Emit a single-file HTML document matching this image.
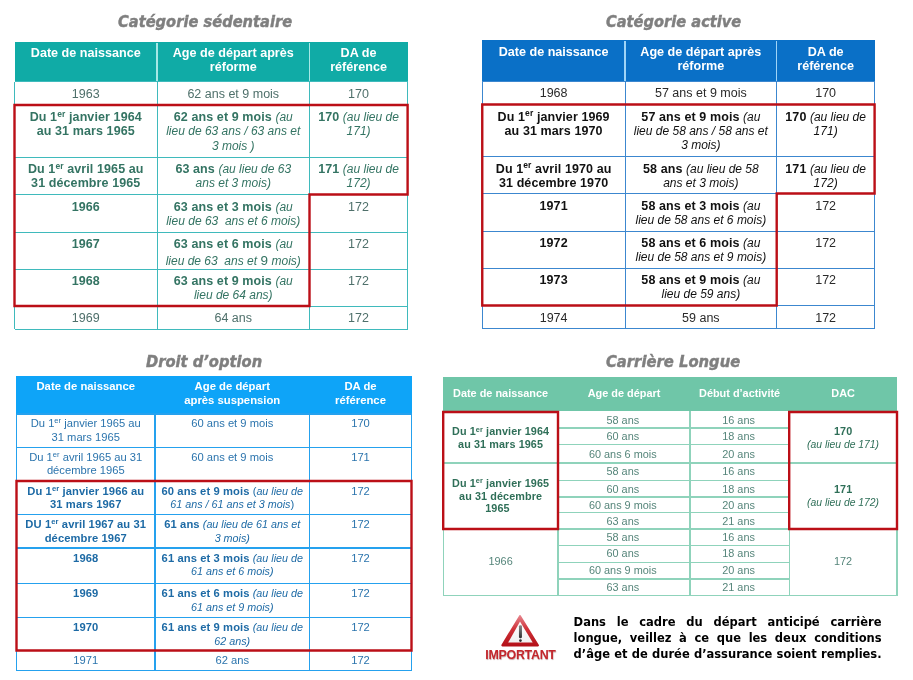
<!DOCTYPE html>
<html lang="fr"><head><meta charset="utf-8"><title>Tableaux</title><style>
html,body{margin:0;padding:0;background:#fff;}
body{width:913px;height:680px;position:relative;overflow:hidden;font-family:"Liberation Sans",sans-serif;}
.t{position:absolute;white-space:nowrap;-webkit-text-stroke:0.45px #7f7f7f;font-family:"DejaVu Sans","Liberation Sans",sans-serif;font-weight:bold;font-style:italic;color:#7f7f7f;font-size:15.8px;line-height:20px;transform-origin:0 50%;}
.c{position:absolute;text-align:center;white-space:nowrap;box-sizing:border-box;font-size:12.5px;line-height:14.3px;}
.c b{letter-spacing:0.1px;}
.c i{font-size:0.96em;}
.c sup{font-size:0.68em;line-height:0;vertical-align:baseline;position:relative;top:-0.5em;}
.h{position:absolute;color:#fff;font-weight:bold;text-align:center;white-space:nowrap;box-sizing:border-box;font-size:12.6px;line-height:14.3px;}
.l{position:absolute;}
</style></head><body>
<div class="t" style="left:118px;top:11.5px;transform:scaleX(0.928)">Catégorie sédentaire</div>
<div class="l" style="left:14.5px;top:41.6px;width:393.1px;height:39.9px;background:#10aba6"></div>
<div class="l" style="left:156.40px;top:42.6px;width:1.2px;height:38.9px;background:#a6e8e6"></div>
<div class="l" style="left:308.90px;top:42.6px;width:1.2px;height:38.9px;background:#a6e8e6"></div>
<div class="l" style="left:14.5px;top:81.00px;width:393.1px;height:1px;background:#3fbabc"></div>
<div class="l" style="left:14.5px;top:104.50px;width:393.1px;height:1px;background:#3fbabc"></div>
<div class="l" style="left:14.5px;top:156.50px;width:393.1px;height:1px;background:#3fbabc"></div>
<div class="l" style="left:14.5px;top:194.00px;width:393.1px;height:1px;background:#3fbabc"></div>
<div class="l" style="left:14.5px;top:231.50px;width:393.1px;height:1px;background:#3fbabc"></div>
<div class="l" style="left:14.5px;top:268.50px;width:393.1px;height:1px;background:#3fbabc"></div>
<div class="l" style="left:14.5px;top:305.50px;width:393.1px;height:1px;background:#3fbabc"></div>
<div class="l" style="left:14.5px;top:328.80px;width:393.1px;height:1px;background:#3fbabc"></div>
<div class="l" style="left:14.00px;top:81.5px;width:1px;height:247.8px;background:#3fbabc"></div>
<div class="l" style="left:156.50px;top:81.5px;width:1px;height:247.8px;background:#3fbabc"></div>
<div class="l" style="left:309.00px;top:81.5px;width:1px;height:247.8px;background:#3fbabc"></div>
<div class="l" style="left:407.10px;top:81.5px;width:1px;height:247.8px;background:#3fbabc"></div>
<div class="h" style="left:14.5px;top:41.6px;width:142.5px;height:39.9px;padding-top:4px;color:#fff;">Date de naissance</div>
<div class="h" style="left:157px;top:41.6px;width:152.5px;height:39.9px;padding-top:4px;color:#fff;">Age de départ après<br>réforme</div>
<div class="h" style="left:309.5px;top:41.6px;width:98.10000000000002px;height:39.9px;padding-top:4px;color:#fff;">DA de<br>référence</div>
<div class="c" style="left:14.5px;top:81.5px;width:142.5px;height:23.5px;padding-top:5px;color:#4f706b;">1963</div>
<div class="c" style="left:157px;top:81.5px;width:152.5px;height:23.5px;padding-top:5px;color:#4f706b;">62 ans et 9 mois</div>
<div class="c" style="left:309.5px;top:81.5px;width:98.10000000000002px;height:23.5px;padding-top:5px;color:#4f706b;">170</div>
<div class="c" style="left:14.5px;top:105px;width:142.5px;height:52px;padding-top:5px;color:#347463;"><b>Du 1<sup>er</sup> janvier 1964<br>au 31 mars 1965</b></div>
<div class="c" style="left:157px;top:105px;width:152.5px;height:52px;padding-top:5px;color:#347463;"><b>62 ans et 9 mois</b> <i>(au<br>lieu de 63 ans / 63 ans et<br>3 mois )</i></div>
<div class="c" style="left:309.5px;top:105px;width:98.10000000000002px;height:52px;padding-top:5px;color:#347463;"><b>170</b> <i>(au lieu de<br>171)</i></div>
<div class="c" style="left:14.5px;top:157px;width:142.5px;height:37.5px;padding-top:5px;color:#347463;"><b>Du 1<sup>er</sup> avril 1965 au<br>31 décembre 1965</b></div>
<div class="c" style="left:157px;top:157px;width:152.5px;height:37.5px;padding-top:5px;color:#347463;"><b>63 ans</b> <i>(au lieu de 63<br>ans et 3 mois)</i></div>
<div class="c" style="left:309.5px;top:157px;width:98.10000000000002px;height:37.5px;padding-top:5px;color:#347463;"><b>171</b> <i>(au lieu de<br>172)</i></div>
<div class="c" style="left:14.5px;top:194.5px;width:142.5px;height:37.5px;padding-top:5px;color:#347463;"><b>1966</b></div>
<div class="c" style="left:157px;top:194.5px;width:152.5px;height:37.5px;padding-top:5px;color:#347463;"><b>63 ans et 3 mois</b> <i>(au<br>lieu de 63&nbsp; ans et 6 mois)</i></div>
<div class="c" style="left:309.5px;top:194.5px;width:98.10000000000002px;height:37.5px;padding-top:5px;color:#4f706b;">172</div>
<div class="c" style="left:14.5px;top:232px;width:142.5px;height:37px;padding-top:5px;color:#347463;"><b>1967</b></div>
<div class="c" style="left:157px;top:232px;width:152.5px;height:37px;padding-top:5px;color:#347463;"><b>63 ans et 6 mois</b> <i>(au</i><br><span style="position:relative;top:2.5px"><i>lieu de 63&nbsp; ans et</i> <span style="font-size:13.5px">9</span> <i>mois)</i></span></div>
<div class="c" style="left:309.5px;top:232px;width:98.10000000000002px;height:37px;padding-top:5px;color:#4f706b;">172</div>
<div class="c" style="left:14.5px;top:269px;width:142.5px;height:37px;padding-top:5px;color:#347463;"><b>1968</b></div>
<div class="c" style="left:157px;top:269px;width:152.5px;height:37px;padding-top:5px;color:#347463;"><b>63 ans et 9 mois</b> <i>(au<br>lieu de 64 ans)</i></div>
<div class="c" style="left:309.5px;top:269px;width:98.10000000000002px;height:37px;padding-top:5px;color:#4f706b;">172</div>
<div class="c" style="left:14.5px;top:306px;width:142.5px;height:23.30000000000001px;padding-top:5px;color:#4f706b;">1969</div>
<div class="c" style="left:157px;top:306px;width:152.5px;height:23.30000000000001px;padding-top:5px;color:#4f706b;">64 ans</div>
<div class="c" style="left:309.5px;top:306px;width:98.10000000000002px;height:23.30000000000001px;padding-top:5px;color:#4f706b;">172</div>
<div class="t" style="left:606px;top:11.7px;transform:scaleX(0.926)">Catégorie active</div>
<div class="l" style="left:482.25px;top:40px;width:392.35px;height:41px;background:#0a70c7"></div>
<div class="l" style="left:624.40px;top:41px;width:1.2px;height:40px;background:#9fd4f7"></div>
<div class="l" style="left:776.10px;top:41px;width:1.2px;height:40px;background:#9fd4f7"></div>
<div class="l" style="left:482.25px;top:80.50px;width:392.35px;height:1px;background:#3c87cf"></div>
<div class="l" style="left:482.25px;top:104.00px;width:392.35px;height:1px;background:#3c87cf"></div>
<div class="l" style="left:482.25px;top:156.00px;width:392.35px;height:1px;background:#3c87cf"></div>
<div class="l" style="left:482.25px;top:193.00px;width:392.35px;height:1px;background:#3c87cf"></div>
<div class="l" style="left:482.25px;top:230.50px;width:392.35px;height:1px;background:#3c87cf"></div>
<div class="l" style="left:482.25px;top:267.50px;width:392.35px;height:1px;background:#3c87cf"></div>
<div class="l" style="left:482.25px;top:305.00px;width:392.35px;height:1px;background:#3c87cf"></div>
<div class="l" style="left:482.25px;top:327.50px;width:392.35px;height:1px;background:#3c87cf"></div>
<div class="l" style="left:481.75px;top:81px;width:1px;height:247px;background:#3c87cf"></div>
<div class="l" style="left:624.50px;top:81px;width:1px;height:247px;background:#3c87cf"></div>
<div class="l" style="left:776.20px;top:81px;width:1px;height:247px;background:#3c87cf"></div>
<div class="l" style="left:874.10px;top:81px;width:1px;height:247px;background:#3c87cf"></div>
<div class="h" style="left:482.25px;top:40px;width:142.75px;height:41px;padding-top:5px;color:#fff;">Date de naissance</div>
<div class="h" style="left:625px;top:40px;width:151.70000000000005px;height:41px;padding-top:5px;color:#fff;">Age de départ après<br>réforme</div>
<div class="h" style="left:776.7px;top:40px;width:97.89999999999998px;height:41px;padding-top:5px;color:#fff;">DA de<br>référence</div>
<div class="c" style="left:482.25px;top:81px;width:142.75px;height:23.5px;padding-top:5px;color:#2a2a2a;">1968</div>
<div class="c" style="left:625px;top:81px;width:151.70000000000005px;height:23.5px;padding-top:5px;color:#2a2a2a;">57 ans et 9 mois</div>
<div class="c" style="left:776.7px;top:81px;width:97.89999999999998px;height:23.5px;padding-top:5px;color:#2a2a2a;">170</div>
<div class="c" style="left:482.25px;top:104.5px;width:142.75px;height:52.0px;padding-top:5px;color:#111;"><b>Du 1<sup>er</sup> janvier 1969<br>au 31 mars 1970</b></div>
<div class="c" style="left:625px;top:104.5px;width:151.70000000000005px;height:52.0px;padding-top:5px;color:#111;"><b>57 ans et 9 mois</b> <i>(au<br>lieu de 58 ans / 58 ans et<br>3 mois)</i></div>
<div class="c" style="left:776.7px;top:104.5px;width:97.89999999999998px;height:52.0px;padding-top:5px;color:#111;"><b>170</b> <i>(au lieu de<br>171)</i></div>
<div class="c" style="left:482.25px;top:156.5px;width:142.75px;height:37.0px;padding-top:5px;color:#111;"><b>Du 1<sup>er</sup> avril 1970 au<br>31 décembre 1970</b></div>
<div class="c" style="left:625px;top:156.5px;width:151.70000000000005px;height:37.0px;padding-top:5px;color:#111;"><b>58 ans</b> <i>(au lieu de 58<br>ans et 3 mois)</i></div>
<div class="c" style="left:776.7px;top:156.5px;width:97.89999999999998px;height:37.0px;padding-top:5px;color:#111;"><b>171</b> <i>(au lieu de<br>172)</i></div>
<div class="c" style="left:482.25px;top:193.5px;width:142.75px;height:37.5px;padding-top:5px;color:#111;"><b>1971</b></div>
<div class="c" style="left:625px;top:193.5px;width:151.70000000000005px;height:37.5px;padding-top:5px;color:#111;"><b>58 ans et 3 mois</b> <i>(au<br>lieu de 58 ans et 6 mois)</i></div>
<div class="c" style="left:776.7px;top:193.5px;width:97.89999999999998px;height:37.5px;padding-top:5px;color:#2a2a2a;">172</div>
<div class="c" style="left:482.25px;top:231px;width:142.75px;height:37px;padding-top:5px;color:#111;"><b>1972</b></div>
<div class="c" style="left:625px;top:231px;width:151.70000000000005px;height:37px;padding-top:5px;color:#111;"><b>58 ans et 6 mois</b> <i>(au<br>lieu de 58 ans et 9 mois)</i></div>
<div class="c" style="left:776.7px;top:231px;width:97.89999999999998px;height:37px;padding-top:5px;color:#2a2a2a;">172</div>
<div class="c" style="left:482.25px;top:268px;width:142.75px;height:37.5px;padding-top:5px;color:#111;"><b>1973</b></div>
<div class="c" style="left:625px;top:268px;width:151.70000000000005px;height:37.5px;padding-top:5px;color:#111;"><b>58 ans et 9 mois</b> <i>(au<br>lieu de 59 ans)</i></div>
<div class="c" style="left:776.7px;top:268px;width:97.89999999999998px;height:37.5px;padding-top:5px;color:#2a2a2a;">172</div>
<div class="c" style="left:482.25px;top:305.5px;width:142.75px;height:22.5px;padding-top:5px;color:#2a2a2a;">1974</div>
<div class="c" style="left:625px;top:305.5px;width:151.70000000000005px;height:22.5px;padding-top:5px;color:#2a2a2a;">59 ans</div>
<div class="c" style="left:776.7px;top:305.5px;width:97.89999999999998px;height:22.5px;padding-top:5px;color:#2a2a2a;">172</div>
<div class="t" style="left:146.3px;top:352px;transform:scaleX(0.931)">Droit d’option</div>
<div class="l" style="left:16.0px;top:376px;width:396.0px;height:38px;background:#0ea4f8"></div>
<div class="l" style="left:16.5px;top:413.35px;width:395.0px;height:1.3px;background:#25a1ee"></div>
<div class="l" style="left:16.5px;top:446.85px;width:395.0px;height:1.3px;background:#25a1ee"></div>
<div class="l" style="left:16.5px;top:480.35px;width:395.0px;height:1.3px;background:#25a1ee"></div>
<div class="l" style="left:16.5px;top:513.85px;width:395.0px;height:1.3px;background:#25a1ee"></div>
<div class="l" style="left:16.5px;top:547.35px;width:395.0px;height:1.3px;background:#25a1ee"></div>
<div class="l" style="left:16.5px;top:582.85px;width:395.0px;height:1.3px;background:#25a1ee"></div>
<div class="l" style="left:16.5px;top:616.85px;width:395.0px;height:1.3px;background:#25a1ee"></div>
<div class="l" style="left:16.5px;top:649.85px;width:395.0px;height:1.3px;background:#25a1ee"></div>
<div class="l" style="left:16.5px;top:669.85px;width:395.0px;height:1.3px;background:#25a1ee"></div>
<div class="l" style="left:15.65px;top:414px;width:1.7px;height:256.5px;background:#25a1ee"></div>
<div class="l" style="left:154.15px;top:414px;width:1.7px;height:256.5px;background:#25a1ee"></div>
<div class="l" style="left:308.65px;top:414px;width:1.7px;height:256.5px;background:#25a1ee"></div>
<div class="l" style="left:410.65px;top:414px;width:1.7px;height:256.5px;background:#25a1ee"></div>
<div class="h" style="left:16.5px;top:376px;width:138.5px;height:38px;padding-top:4px;color:#fff;font-size:11.3px;line-height:13.5px;">Date de naissance</div>
<div class="h" style="left:155px;top:376px;width:154.5px;height:38px;padding-top:4px;color:#fff;font-size:11.3px;line-height:13.5px;">Age de départ<br>après suspension</div>
<div class="h" style="left:309.5px;top:376px;width:102.0px;height:38px;padding-top:4px;color:#fff;font-size:11.3px;line-height:13.5px;">DA de<br>référence</div>
<div class="c c3" style="left:16.5px;top:414px;width:138.5px;height:33.5px;padding-top:3px;color:#2b74ad;font-size:11.2px;line-height:13.5px;">Du 1<sup>er</sup> janvier 1965 au<br>31 mars 1965</div>
<div class="c c3" style="left:155px;top:414px;width:154.5px;height:33.5px;padding-top:3px;color:#2b74ad;font-size:11.2px;line-height:13.5px;">60 ans et 9 mois</div>
<div class="c c3" style="left:309.5px;top:414px;width:102.0px;height:33.5px;padding-top:3px;color:#2b74ad;font-size:11.2px;line-height:13.5px;">170</div>
<div class="c c3" style="left:16.5px;top:447.5px;width:138.5px;height:33.5px;padding-top:3px;color:#2b74ad;font-size:11.2px;line-height:13.5px;">Du 1<sup>er</sup> avril 1965 au 31<br>décembre 1965</div>
<div class="c c3" style="left:155px;top:447.5px;width:154.5px;height:33.5px;padding-top:3px;color:#2b74ad;font-size:11.2px;line-height:13.5px;">60 ans et 9 mois</div>
<div class="c c3" style="left:309.5px;top:447.5px;width:102.0px;height:33.5px;padding-top:3px;color:#2b74ad;font-size:11.2px;line-height:13.5px;">171</div>
<div class="c c3" style="left:16.5px;top:481px;width:138.5px;height:33.5px;padding-top:3.7px;color:#1d6aa5;font-size:11.2px;line-height:13.5px;"><b>Du 1<sup>er</sup> janvier 1966 au<br>31 mars 1967</b></div>
<div class="c c3" style="left:155px;top:481px;width:154.5px;height:33.5px;padding-top:3.7px;color:#1d6aa5;font-size:11.2px;line-height:13.5px;"><b>60 ans et 9 mois</b> (<i>au lieu de<br>61 ans / 61 ans et 3 mois</i>)</div>
<div class="c c3" style="left:309.5px;top:481px;width:102.0px;height:33.5px;padding-top:3.7px;color:#2b74ad;font-size:11.2px;line-height:13.5px;">172</div>
<div class="c c3" style="left:16.5px;top:514.5px;width:138.5px;height:33.5px;padding-top:3.7px;color:#1d6aa5;font-size:11.2px;line-height:13.5px;"><b>DU 1<sup>er</sup> avril 1967 au 31<br>décembre 1967</b></div>
<div class="c c3" style="left:155px;top:514.5px;width:154.5px;height:33.5px;padding-top:3.7px;color:#1d6aa5;font-size:11.2px;line-height:13.5px;"><b>61 ans</b> <i>(au lieu de 61 ans et<br>3 mois)</i></div>
<div class="c c3" style="left:309.5px;top:514.5px;width:102.0px;height:33.5px;padding-top:3.7px;color:#2b74ad;font-size:11.2px;line-height:13.5px;">172</div>
<div class="c c3" style="left:16.5px;top:548px;width:138.5px;height:35.5px;padding-top:3.7px;color:#1d6aa5;font-size:11.2px;line-height:13.5px;"><b>1968</b></div>
<div class="c c3" style="left:155px;top:548px;width:154.5px;height:35.5px;padding-top:3.7px;color:#1d6aa5;font-size:11.2px;line-height:13.5px;"><b>61 ans et 3 mois</b> <i>(au lieu de<br>61 ans et 6 mois)</i></div>
<div class="c c3" style="left:309.5px;top:548px;width:102.0px;height:35.5px;padding-top:3.7px;color:#2b74ad;font-size:11.2px;line-height:13.5px;">172</div>
<div class="c c3" style="left:16.5px;top:583.5px;width:138.5px;height:34.0px;padding-top:3.7px;color:#1d6aa5;font-size:11.2px;line-height:13.5px;"><b>1969</b></div>
<div class="c c3" style="left:155px;top:583.5px;width:154.5px;height:34.0px;padding-top:3.7px;color:#1d6aa5;font-size:11.2px;line-height:13.5px;"><b>61 ans et 6 mois</b> <i>(au lieu de<br>61 ans et 9 mois)</i></div>
<div class="c c3" style="left:309.5px;top:583.5px;width:102.0px;height:34.0px;padding-top:3.7px;color:#2b74ad;font-size:11.2px;line-height:13.5px;">172</div>
<div class="c c3" style="left:16.5px;top:617.5px;width:138.5px;height:33.0px;padding-top:3.7px;color:#1d6aa5;font-size:11.2px;line-height:13.5px;"><b>1970</b></div>
<div class="c c3" style="left:155px;top:617.5px;width:154.5px;height:33.0px;padding-top:3.7px;color:#1d6aa5;font-size:11.2px;line-height:13.5px;"><b>61 ans et 9 mois</b> <i>(au lieu de<br>62 ans)</i></div>
<div class="c c3" style="left:309.5px;top:617.5px;width:102.0px;height:33.0px;padding-top:3.7px;color:#2b74ad;font-size:11.2px;line-height:13.5px;">172</div>
<div class="c c3" style="left:16.5px;top:650.5px;width:138.5px;height:20.0px;padding-top:3.7px;color:#2b74ad;font-size:11.2px;line-height:13.5px;">1971</div>
<div class="c c3" style="left:155px;top:650.5px;width:154.5px;height:20.0px;padding-top:3.7px;color:#2b74ad;font-size:11.2px;line-height:13.5px;">62 ans</div>
<div class="c c3" style="left:309.5px;top:650.5px;width:102.0px;height:20.0px;padding-top:3.7px;color:#2b74ad;font-size:11.2px;line-height:13.5px;">172</div>
<div class="t" style="left:606px;top:352px;transform:scaleX(0.936)">Carrière Longue</div>
<div class="l" style="left:443.2px;top:376.6px;width:453.8px;height:34.299999999999955px;background:#6fc6a8"></div>
<div class="l" style="left:558px;top:427.38px;width:231.20000000000005px;height:1.25px;background:#8fd3bb"></div>
<div class="l" style="left:558px;top:443.88px;width:231.20000000000005px;height:1.25px;background:#8fd3bb"></div>
<div class="l" style="left:558px;top:462.38px;width:231.20000000000005px;height:1.25px;background:#8fd3bb"></div>
<div class="l" style="left:558px;top:479.88px;width:231.20000000000005px;height:1.25px;background:#8fd3bb"></div>
<div class="l" style="left:558px;top:496.38px;width:231.20000000000005px;height:1.25px;background:#8fd3bb"></div>
<div class="l" style="left:558px;top:511.88px;width:231.20000000000005px;height:1.25px;background:#8fd3bb"></div>
<div class="l" style="left:558px;top:528.38px;width:231.20000000000005px;height:1.25px;background:#8fd3bb"></div>
<div class="l" style="left:558px;top:544.88px;width:231.20000000000005px;height:1.25px;background:#8fd3bb"></div>
<div class="l" style="left:558px;top:561.88px;width:231.20000000000005px;height:1.25px;background:#8fd3bb"></div>
<div class="l" style="left:558px;top:578.38px;width:231.20000000000005px;height:1.25px;background:#8fd3bb"></div>
<div class="l" style="left:558px;top:594.88px;width:231.20000000000005px;height:1.25px;background:#8fd3bb"></div>
<div class="l" style="left:443.2px;top:462.38px;width:453.8px;height:1.25px;background:#8fd3bb"></div>
<div class="l" style="left:443.2px;top:528.38px;width:453.8px;height:1.25px;background:#8fd3bb"></div>
<div class="l" style="left:443.2px;top:594.88px;width:453.8px;height:1.25px;background:#8fd3bb"></div>
<div class="l" style="left:442.57px;top:410.5px;width:1.25px;height:185.0px;background:#8fd3bb"></div>
<div class="l" style="left:557.38px;top:410.5px;width:1.25px;height:185.0px;background:#8fd3bb"></div>
<div class="l" style="left:689.38px;top:410.5px;width:1.25px;height:185.0px;background:#8fd3bb"></div>
<div class="l" style="left:788.58px;top:410.5px;width:1.25px;height:185.0px;background:#8fd3bb"></div>
<div class="l" style="left:896.38px;top:410.5px;width:1.25px;height:185.0px;background:#8fd3bb"></div>
<div class="h" style="left:443.2px;top:387.22px;width:114.80000000000001px;color:#fff;font-size:10.9px;line-height:13px;">Date de naissance</div>
<div class="h" style="left:558px;top:387.22px;width:132px;color:#fff;font-size:10.9px;line-height:13px;">Age de départ</div>
<div class="h" style="left:690px;top:387.22px;width:99.20000000000005px;color:#fff;font-size:10.9px;line-height:13px;">Début d’activité</div>
<div class="h" style="left:789.2px;top:387.22px;width:107.79999999999995px;color:#fff;font-size:10.9px;line-height:13px;">DAC</div>
<div class="c" style="left:556.8px;top:413.57px;width:132.0px;color:#55857a;font-size:10.9px;line-height:12.8px;">58 ans</div>
<div class="c" style="left:689px;top:413.57px;width:99.20000000000005px;color:#55857a;font-size:10.9px;line-height:12.8px;">16 ans</div>
<div class="c" style="left:556.8px;top:429.82px;width:132.0px;color:#55857a;font-size:10.9px;line-height:12.8px;">60 ans</div>
<div class="c" style="left:689px;top:429.82px;width:99.20000000000005px;color:#55857a;font-size:10.9px;line-height:12.8px;">18 ans</div>
<div class="c" style="left:556.8px;top:447.82px;width:132.0px;color:#55857a;font-size:10.9px;line-height:12.8px;">60 ans 6 mois</div>
<div class="c" style="left:689px;top:447.82px;width:99.20000000000005px;color:#55857a;font-size:10.9px;line-height:12.8px;">20 ans</div>
<div class="c" style="left:556.8px;top:465.32px;width:132.0px;color:#55857a;font-size:10.9px;line-height:12.8px;">58 ans</div>
<div class="c" style="left:689px;top:465.32px;width:99.20000000000005px;color:#55857a;font-size:10.9px;line-height:12.8px;">16 ans</div>
<div class="c" style="left:556.8px;top:482.82px;width:132.0px;color:#55857a;font-size:10.9px;line-height:12.8px;">60 ans</div>
<div class="c" style="left:689px;top:482.82px;width:99.20000000000005px;color:#55857a;font-size:10.9px;line-height:12.8px;">18 ans</div>
<div class="c" style="left:556.8px;top:498.82px;width:132.0px;color:#55857a;font-size:10.9px;line-height:12.8px;">60 ans 9 mois</div>
<div class="c" style="left:689px;top:498.82px;width:99.20000000000005px;color:#55857a;font-size:10.9px;line-height:12.8px;">20 ans</div>
<div class="c" style="left:556.8px;top:514.57px;width:132.0px;color:#55857a;font-size:10.9px;line-height:12.8px;">63 ans</div>
<div class="c" style="left:689px;top:514.57px;width:99.20000000000005px;color:#55857a;font-size:10.9px;line-height:12.8px;">21 ans</div>
<div class="c" style="left:556.8px;top:530.57px;width:132.0px;color:#55857a;font-size:10.9px;line-height:12.8px;">58 ans</div>
<div class="c" style="left:689px;top:530.57px;width:99.20000000000005px;color:#55857a;font-size:10.9px;line-height:12.8px;">16 ans</div>
<div class="c" style="left:556.8px;top:547.32px;width:132.0px;color:#55857a;font-size:10.9px;line-height:12.8px;">60 ans</div>
<div class="c" style="left:689px;top:547.32px;width:99.20000000000005px;color:#55857a;font-size:10.9px;line-height:12.8px;">18 ans</div>
<div class="c" style="left:556.8px;top:564.07px;width:132.0px;color:#55857a;font-size:10.9px;line-height:12.8px;">60 ans 9 mois</div>
<div class="c" style="left:689px;top:564.07px;width:99.20000000000005px;color:#55857a;font-size:10.9px;line-height:12.8px;">20 ans</div>
<div class="c" style="left:556.8px;top:581.07px;width:132.0px;color:#55857a;font-size:10.9px;line-height:12.8px;">63 ans</div>
<div class="c" style="left:689px;top:581.07px;width:99.20000000000005px;color:#55857a;font-size:10.9px;line-height:12.8px;">21 ans</div>
<div class="c" style="left:443.2px;top:425.36px;width:114.80000000000001px;color:#2f6f58;font-size:10.8px;line-height:12.8px;"><b>Du 1<sup>er</sup> janvier 1964<br>au 31 mars 1965</b></div>
<div class="c" style="left:443.2px;top:476.86px;width:114.80000000000001px;color:#2f6f58;font-size:10.8px;line-height:12.8px;"><b>Du 1<sup>er</sup> janvier 1965<br>au 31 décembre<br>1965&nbsp;&nbsp;</b></div>
<div class="c" style="left:443.2px;top:555.32px;width:114.80000000000001px;color:#55857a;font-size:10.9px;line-height:12.8px;">1966</div>
<div class="c" style="left:789.2px;top:424.96px;width:107.79999999999995px;color:#2f6f58;font-size:10.8px;line-height:12.6px;"><b>170</b><br><i>(au lieu de 171)</i></div>
<div class="c" style="left:789.2px;top:482.86px;width:107.79999999999995px;color:#2f6f58;font-size:10.8px;line-height:12.8px;"><b>171</b><br><i>(au lieu de 172)</i></div>
<div class="c" style="left:789.2px;top:555.32px;width:107.79999999999995px;color:#55857a;font-size:10.9px;line-height:12.8px;">172</div>
<svg style="position:absolute;left:495px;top:610px" width="50" height="40" viewBox="495 610 50 40">
<defs><linearGradient id="g1" x1="0" y1="0" x2="0" y2="1"><stop offset="0" stop-color="#e58088"/><stop offset="0.45" stop-color="#cf3138"/><stop offset="1" stop-color="#b5121a"/></linearGradient>
<linearGradient id="g2" x1="0" y1="0" x2="0" y2="1"><stop offset="0" stop-color="#ffffff"/><stop offset="1" stop-color="#f1f1f1"/></linearGradient>
<linearGradient id="g3" x1="0" y1="0" x2="0" y2="1"><stop offset="0" stop-color="#8a8a8a"/><stop offset="1" stop-color="#2e2e2e"/></linearGradient></defs>
<path d="M520 616.2 L537.8 645.3 L502.4 645.3 Z" fill="url(#g1)" stroke="url(#g1)" stroke-width="2.2" stroke-linejoin="round"/>
<path d="M520 621.4 L532.7 642.4 L508.2 642.4 Z" fill="url(#g2)"/>
<rect x="518.95" y="625.2" width="3" height="13" rx="1.1" fill="url(#g3)"/><circle cx="520.45" cy="640.6" r="1.35" fill="#2e2e2e"/>
</svg>
<div style="position:absolute;left:480.5px;top:647.4px;width:80px;text-align:center;font:bold 12.4px/16px 'Liberation Sans',sans-serif;color:#c3262c;white-space:nowrap;letter-spacing:-0.27px;text-shadow:0.4px 0.6px 0.8px rgba(90,0,0,0.35)">IMPORTANT</div>
<div style="position:absolute;left:573.6px;top:613.6px;width:308px;text-align-last:justify;font:bold 11.5px/16.1px 'DejaVu Sans','Liberation Sans',sans-serif;color:#000;text-align:justify;">Dans le cadre du départ anticipé carrière longue, veillez à ce que les deux conditions d’âge et de durée d’assurance soient remplies.</div>
<svg style="position:absolute;left:0;top:0" width="913" height="680" viewBox="0 0 913 680" fill="none" stroke="#bb0f17" stroke-width="2.4" stroke-linejoin="miter"><path d="M14.5 105 L407.6 105 L407.6 194.5 L309.5 194.5 L309.5 306 L14.5 306 Z"/><path d="M482.25 104.5 L874.6 104.5 L874.6 193.5 L776.7 193.5 L776.7 305.5 L482.25 305.5 Z"/><path d="M16.5 481 L411.5 481 L411.5 650.5 L16.5 650.5 Z"/><path d="M443.2 412 L558 412 L558 529 L443.2 529 Z"/><path d="M789.2 412 L897 412 L897 529 L789.2 529 Z"/></svg>
</body></html>
